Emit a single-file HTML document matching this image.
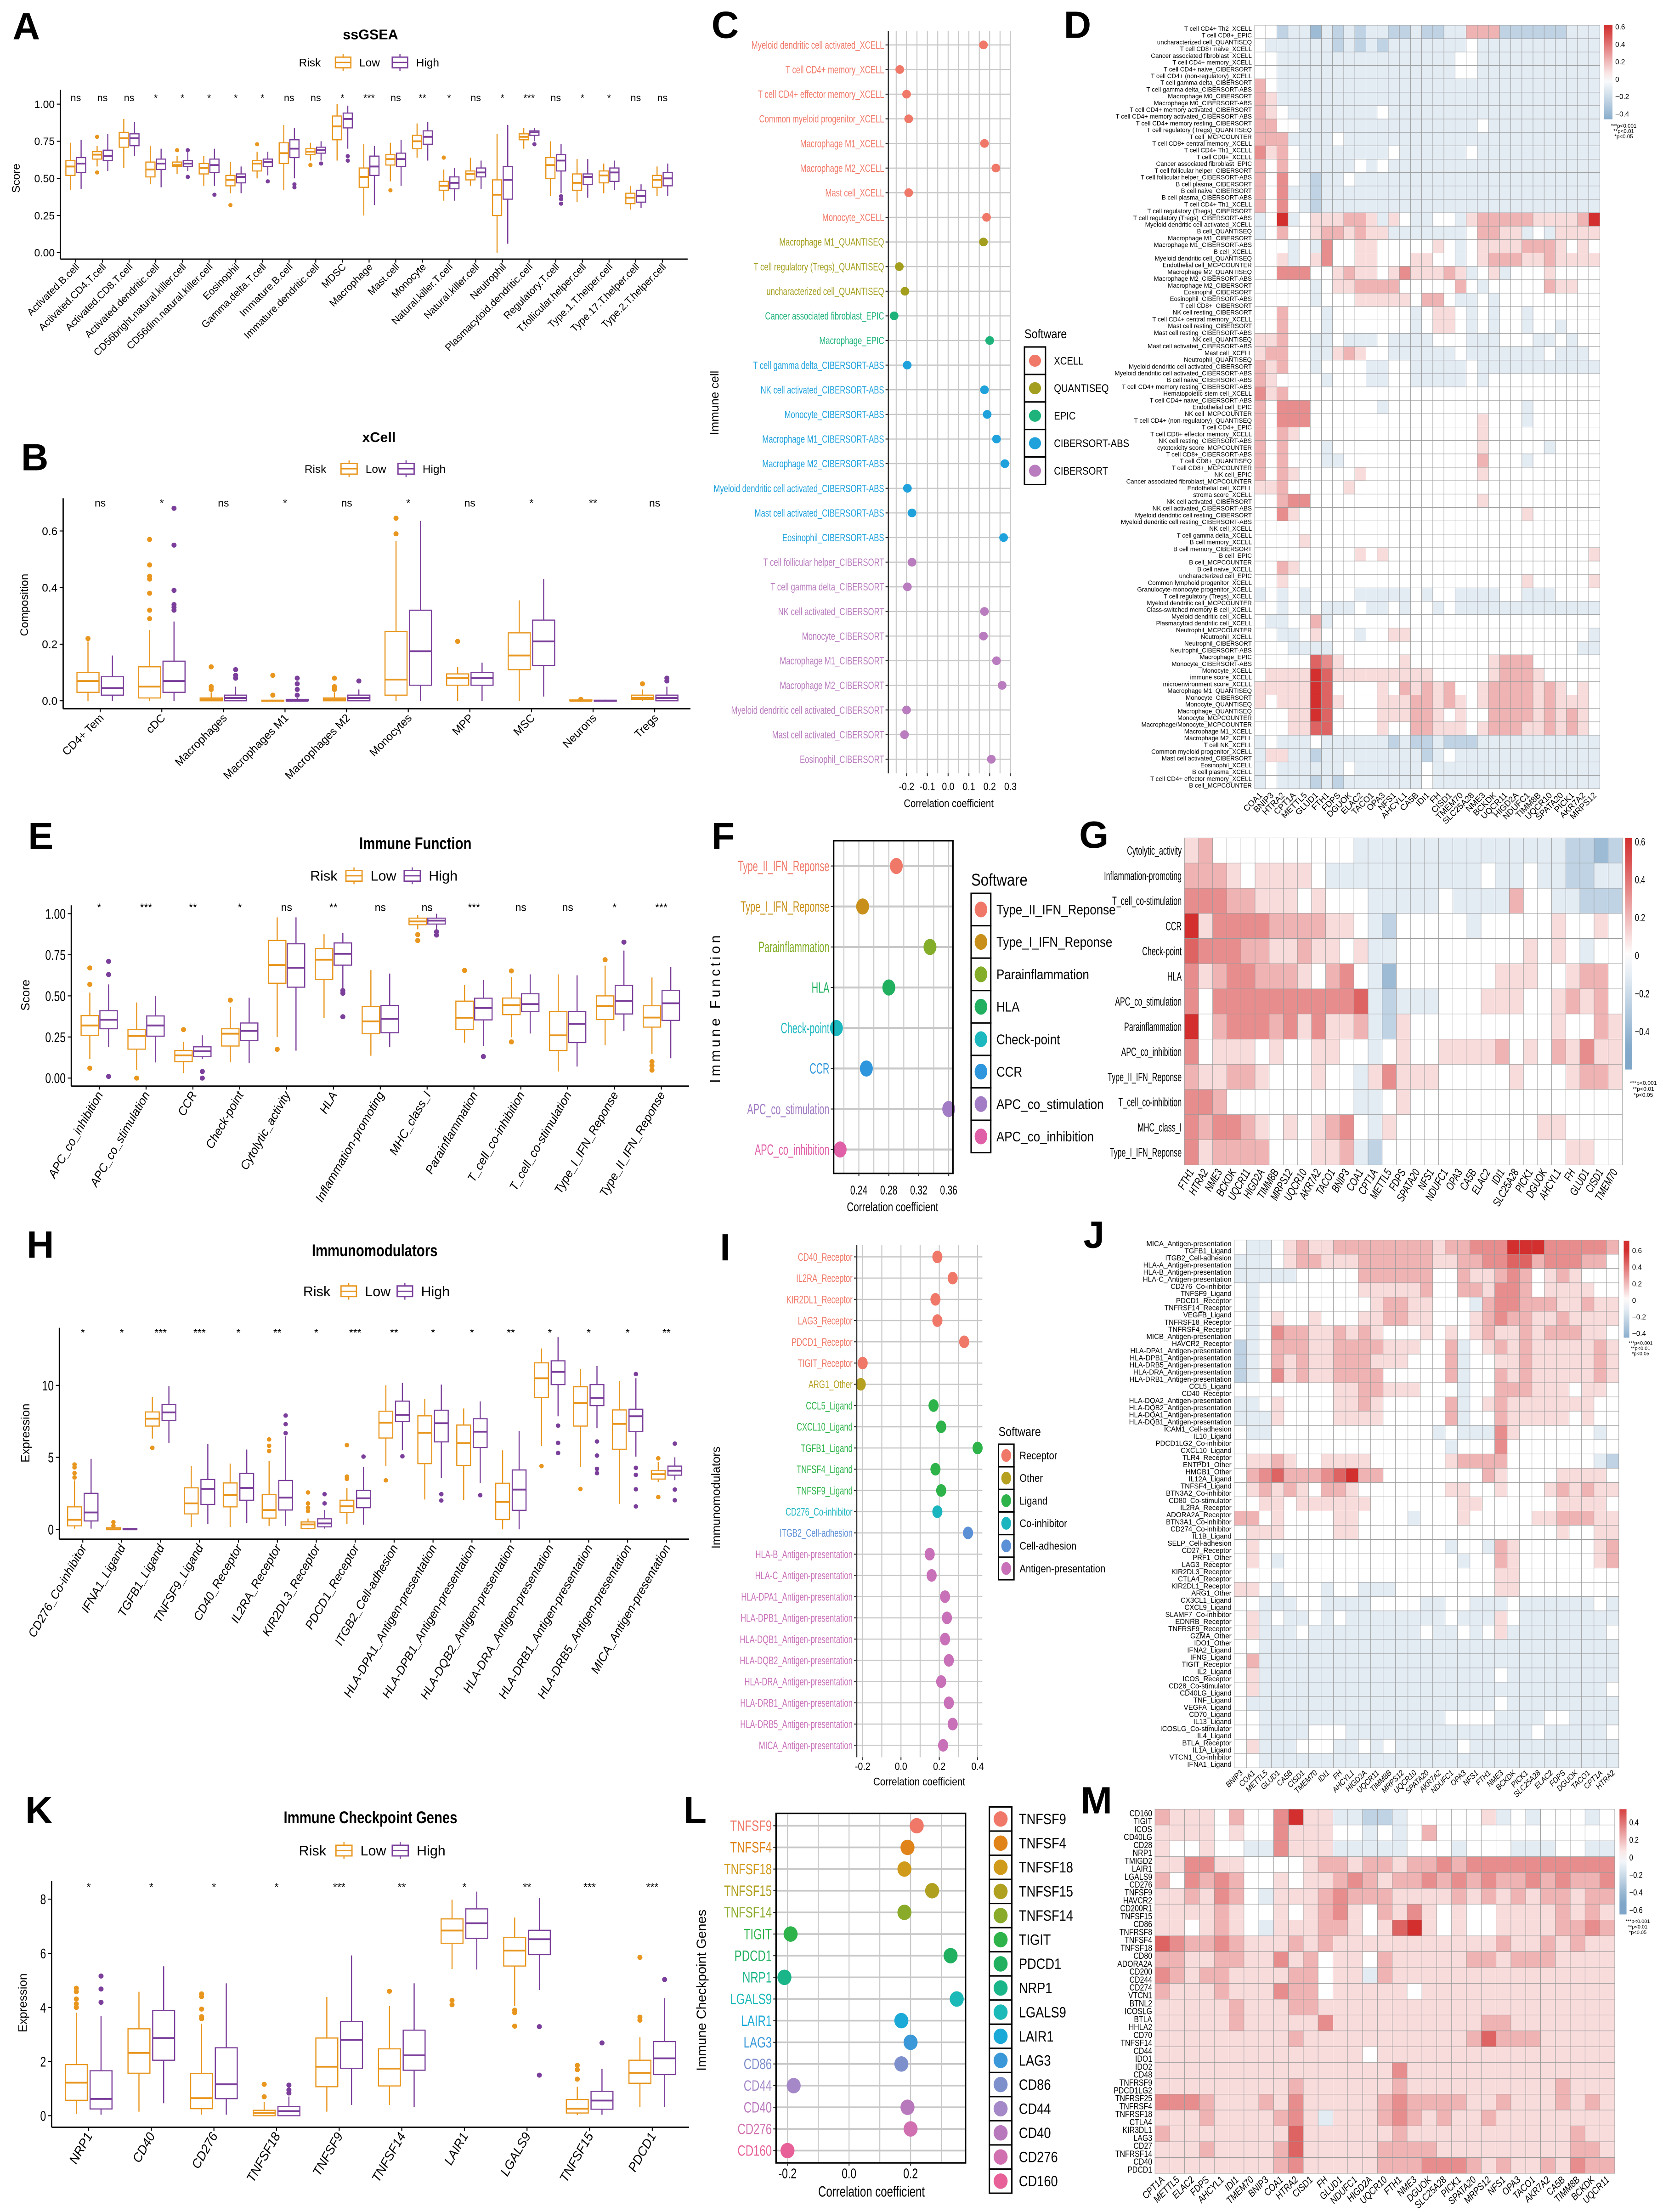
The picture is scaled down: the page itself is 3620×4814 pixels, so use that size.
<!DOCTYPE html>
<html><head><meta charset="utf-8"><title>Immune infiltration figure</title>
<style>html,body{margin:0;padding:0;background:#fff}svg{display:block}</style></head>
<body>
<svg id="fig" xmlns="http://www.w3.org/2000/svg" width="3620" height="4814" viewBox="0 0 1185 1576" preserveAspectRatio="none" font-family="Liberation Sans, Arial, sans-serif"><rect width="1185" height="1576" fill="#fff"/></svg>
<script>
// ===================== DATA =====================
const aCats=['Activated.B.cell','Activated.CD4.T.cell','Activated.CD8.T.cell','Activated.dendritic.cell','CD56bright.natural.killer.cell','CD56dim.natural.killer.cell','Eosinophil','Gamma.delta.T.cell','Immature.B.cell','Immature.dendritic.cell','MDSC','Macrophage','Mast.cell','Monocyte','Natural.killer.T.cell','Natural.killer.cell','Neutrophil','Plasmacytoid.dendritic.cell','Regulatory.T.cell','T.follicular.helper.cell','Type.1.T.helper.cell','Type.17.T.helper.cell','Type.2.T.helper.cell'];
const aLow=[[.52,.58,.62,.42,.74],[.63,.66,.68,.58,.72],[.71,.77,.81,.57,.90],[.51,.56,.61,.46,.72],[.58,.59,.61,.53,.65],[.53,.57,.60,.45,.65],[.45,.49,.52,.40,.61],[.55,.60,.62,.50,.68],[.60,.67,.74,.42,.86],[.66,.68,.70,.62,.74],[.76,.85,.92,.62,1.0],[.44,.51,.57,.25,.73],[.59,.63,.66,.48,.74],[.70,.75,.79,.64,.87],[.42,.45,.48,.35,.56],[.49,.53,.55,.45,.64],[.25,.39,.49,0,.80],[.76,.78,.80,.70,.84],[.50,.59,.64,.38,.75],[.42,.47,.53,.34,.63],[.47,.52,.55,.40,.60],[.33,.37,.40,.29,.45],[.44,.49,.52,.38,.58]];
const aHigh=[[.54,.60,.64,.43,.76],[.62,.65,.69,.55,.80],[.72,.77,.80,.65,.88],[.56,.60,.63,.44,.70],[.58,.60,.62,.55,.69],[.54,.59,.63,.45,.70],[.47,.51,.53,.40,.58],[.58,.61,.63,.52,.68],[.64,.70,.76,.50,.84],[.67,.69,.71,.62,.75],[.84,.90,.94,.70,.99],[.52,.58,.65,.32,.72],[.58,.63,.67,.45,.76],[.73,.78,.82,.62,.88],[.43,.47,.51,.35,.57],[.51,.54,.57,.43,.62],[.36,.49,.58,.06,.86],[.79,.81,.82,.75,.84],[.55,.62,.66,.40,.73],[.46,.51,.53,.37,.63],[.48,.54,.57,.42,.62],[.34,.38,.42,.30,.46],[.45,.50,.54,.38,.60]];
const aLowOut=[[],[.78,.54],[],[],[.69],[],[.32],[.73],[],[.59],[],[],[.42],[],[.64],[],[],[],[],[],[],[],[]];
const aHighOut=[[],[],[],[],[.69,.51],[.39],[],[.48],[.46,.44],[.60],[.65,.62],[],[],[],[],[],[],[.73],[.38,.36,.33],[],[],[],[]];
const aSig=['ns','ns','ns','*','*','*','*','*','ns','ns','*','***','ns','**','*','ns','*','***','ns','*','*','ns','ns'];
const aTicks=[0,0.25,0.5,0.75,1];
const aTickLabels=['0.00','0.25','0.50','0.75','1.00'];

const bCats=['CD4+ Tem','cDC','Macrophages','Macrophages M1','Macrophages M2','Monocytes','MPP','MSC','Neurons','Tregs'];
const bLow=[[.03,.07,.10,0,.21],[.01,.05,.12,0,.25],[0,.005,.01,0,.03],[0,0,.002,0,.004],[0,.005,.01,0,.03],[.02,.075,.245,0,.565],[.055,.08,.095,0,.12],[.11,.16,.24,0,.355],[0,0,.003,0,.005],[.005,.01,.02,0,.04]];
const bHigh=[[.02,.045,.085,0,.16],[.03,.07,.14,0,.28],[0,.01,.02,0,.05],[0,0,.005,0,.01],[0,.01,.02,0,.04],[.055,.175,.32,0,.635],[.055,.08,.10,0,.135],[.125,.21,.285,.015,.43],[0,0,.002,0,.004],[0,.01,.02,0,.05]];
const bLowOut=[[.22],[.29,.32,.38,.43,.44,.48,.57],[.04,.05,.12],[.02,.09],[.04,.05,.08],[.59,.645],[.21],[],[.005],[.06]];
const bHighOut=[[],[.32,.33,.34,.39,.55,.68],[.08,.09,.11],[.02,.04,.06,.08],[.07],[],[],[],[],[.07,.08]];
const bSig=['ns','*','ns','*','ns','*','ns','*','**','ns'];
const bTicks=[0,0.2,0.4,0.6];
const bTickLabels=['0.0','0.2','0.4','0.6'];

const eCats=['APC_co_inhibition','APC_co_stimulation','CCR','Check-point','Cytolytic_activity','HLA','Inflammation-promoting','MHC_class_I','Parainflammation','T_cell_co-inhibition','T_cell_co-stimulation','Type_I_IFN_Reponse','Type_II_IFN_Reponse'];
const eLow=[[.26,.32,.38,.115,.52],[.176,.256,.295,.05,.46],[.10,.138,.168,.03,.22],[.195,.27,.30,.096,.433],[.577,.688,.837,.25,.978],[.60,.72,.788,.364,.875],[.27,.345,.436,.136,.657],[.933,.953,.973,.905,.992],[.295,.367,.468,.215,.567],[.386,.444,.487,.248,.615],[.168,.26,.405,.04,.631],[.356,.439,.50,.2,.684],[.31,.368,.44,.147,.612]];
const eHigh=[[.30,.355,.41,.19,.57],[.255,.32,.378,.095,.50],[.13,.163,.19,.115,.26],[.228,.287,.335,.09,.489],[.553,.671,.817,.167,.978],[.687,.756,.822,.54,.883],[.276,.36,.442,.19,.636],[.937,.958,.973,.90,1.0],[.354,.426,.486,.195,.596],[.404,.45,.513,.271,.631],[.216,.33,.405,.07,.625],[.39,.47,.564,.287,.776],[.351,.455,.534,.12,.675]];
const eLowOut=[[.67,.57,.06],[0],[.295],[.474],[.175],[],[],[.873,.837],[.655],[.652,.22],[],[.72],[.10,.075,.048]];
const eHighOut=[[.71,.63,.01],[],[.04,0],[],[],[.532,.516,.373],[],[.89,.87],[.131],[],[],[.827],[]];
const eSig=['*','***','**','*','ns','**','ns','ns','***','ns','ns','*','***'];
const eTicks=[0,0.25,0.5,0.75,1];
const eTickLabels=['0.00','0.25','0.50','0.75','1.00'];

const hCats=['CD276_Co-inhibitor','IFNA1_Ligand','TGFB1_Ligand','TNFSF9_Ligand','CD40_Receptor','IL2RA_Receptor','KIR2DL3_Receptor','PDCD1_Receptor','ITGB2_Cell-adhesion','HLA-DPA1_Antigen-presentation','HLA-DPB1_Antigen-presentation','HLA-DQB2_Antigen-presentation','HLA-DRA_Antigen-presentation','HLA-DRB1_Antigen-presentation','HLA-DRB5_Antigen-presentation','MICA_Antigen-presentation'];
const hLow=[[.24,.66,1.56,.05,3.4],[0,0,.1,0,.1],[7.17,7.68,8.15,6.3,9.2],[1.07,1.8,2.88,.17,4.39],[1.56,2.37,3.22,.17,4.56],[.78,1.34,2.41,.24,4.76],[.05,.34,.51,0,.75],[1.17,1.6,2.02,.37,2.88],[6.34,7.4,8.2,4.4,10],[4.56,6.7,7.88,2.07,9.07],[4.44,5.98,7.24,2.02,8.39],[.68,1.9,3.2,0,5.49],[9.15,10.49,11.56,5.78,12.56],[7.17,8.78,9.9,4.34,11.15],[5.56,7.32,8.29,1.76,10.3],[3.49,3.83,4.07,3.3,4.68]];
const hHigh=[[.58,1.17,2.5,.05,4.9],[0,0,.05,0,.05],[7.56,8.12,8.66,5.98,9.93],[1.73,2.8,3.46,.37,5.93],[2.02,2.88,3.88,.44,5.54],[1.34,2.2,3.39,.24,6.46],[.17,.41,.73,.05,1.34],[1.5,2.15,2.7,.32,4.34],[7.49,7.95,8.9,5.49,10.17],[6.07,7.37,8.27,3.58,10.05],[5.68,6.78,7.68,3.22,8.88],[1.32,2.76,4.12,0,6.83],[10.05,10.93,11.7,7.85,13.34],[8.59,9.12,10.05,7.02,11.34],[6.78,7.85,8.34,5.05,10.49],[3.76,4.07,4.39,3.41,5.0]];
const hLowOut=[[4.5,4.3,3.9,3.6],[.5,.25],[5.66],[],[],[6.24,5.8,5.44],[2.56,1.8,1.5,1.27],[5.85,3.66,3.5],[3.4],[],[],[],[4.39],[2.8],[],[4.93,2.24]];
const hHighOut=[[],[],[],[],[],[7.9,7.3,6.68],[2.44,1.8],[5.05],[5.07],[2.44,2.0],[2.37],[],[7.2,6.0,5.3],[6.1,5.12,4.2,3.9],[10.78,4.27,3.78,2.78,1.59],[5.95,2.76,2.02]];
const hSig=['*','*','***','***','*','**','*','***','**','*','*','**','*','*','*','**'];
const hTicks=[0,5,10];
const hTickLabels=['0','5','10'];

const kCats=['NRP1','CD40','CD276','TNFSF18','TNFSF9','TNFSF14','LAIR1','LGALS9','TNFSF15','PDCD1'];
const kLow=[[.57,1.22,1.89,.06,3.81],[1.57,2.32,3.21,.15,4.58],[.26,.65,1.56,.04,3.4],[0,.1,.2,0,.5],[1.07,1.81,2.87,.15,4.39],[1.1,1.74,2.47,.4,4.05],[6.37,6.84,7.27,5.42,7.98],[5.53,6.1,6.59,4.05,7.32],[.1,.26,.6,.02,1.07],[1.2,1.58,2.05,.33,2.9]];
const kHigh=[[.25,.62,1.66,.04,3.68],[2.05,2.87,3.89,.46,5.52],[.63,1.16,2.51,.04,4.89],[0,.17,.34,0,.71],[1.75,2.8,3.48,.4,5.92],[1.68,2.23,3.16,.32,4.89],[6.55,7.11,7.64,5.4,8.28],[5.95,6.52,6.85,4.64,8.05],[.24,.56,.9,.04,1.73],[1.52,2.12,2.74,.32,4.34]];
const kLowOut=[[4.71,4.58,4.31,4.13,4.0],[],[4.5,4.4,3.94,3.66,3.58],[1.16,.7],[],[4.6],[4.26,4.1],[3.81,3.9,3.31],[1.86,1.7,1.35],[5.85,3.64,3.53]];
const kHighOut=[[5.16,4.68,4.19],[],[],[1.13,.95,.84],[],[],[],[3.29,1.5],[2.69],[5.03]];
const kSig=['*','*','*','*','***','**','*','**','***','***'];
const kTicks=[0,2,4,6,8];
const kTickLabels=['0','2','4','6','8'];

const cLabels=['Myeloid dendritic cell activated_XCELL','T cell CD4+ memory_XCELL','T cell CD4+ effector memory_XCELL','Common myeloid progenitor_XCELL','Macrophage M1_XCELL','Macrophage M2_XCELL','Mast cell_XCELL','Monocyte_XCELL','Macrophage M1_QUANTISEQ','T cell regulatory (Tregs)_QUANTISEQ','uncharacterized cell_QUANTISEQ','Cancer associated fibroblast_EPIC','Macrophage_EPIC','T cell gamma delta_CIBERSORT-ABS','NK cell activated_CIBERSORT-ABS','Monocyte_CIBERSORT-ABS','Macrophage M1_CIBERSORT-ABS','Macrophage M2_CIBERSORT-ABS','Myeloid dendritic cell activated_CIBERSORT-ABS','Mast cell activated_CIBERSORT-ABS','Eosinophil_CIBERSORT-ABS','T cell follicular helper_CIBERSORT','T cell gamma delta_CIBERSORT','NK cell activated_CIBERSORT','Monocyte_CIBERSORT','Macrophage M1_CIBERSORT','Macrophage M2_CIBERSORT','Myeloid dendritic cell activated_CIBERSORT','Mast cell activated_CIBERSORT','Eosinophil_CIBERSORT'];
const cValues=[.17,-.233,-.20,-.19,.175,.23,-.19,.185,.17,-.235,-.208,-.26,.20,-.197,.175,.188,.233,.273,-.196,-.174,.267,-.174,-.196,.175,.17,.233,.26,-.20,-.21,.208];
const cGroup=[0,0,0,0,0,0,0,0,1,1,1,2,2,3,3,3,3,3,3,3,3,4,4,4,4,4,4,4,4,4];
const cSoftware=['XCELL','QUANTISEQ','EPIC','CIBERSORT-ABS','CIBERSORT'];
const cColors=['#F07868','#A39E1E','#1DB37A','#1FA2DC','#B97CBE'];
const cTicks=[-0.2,-0.1,0,0.1,0.2,0.3];
const cTickLabels=['-0.2','-0.1','0.0','0.1','0.2','0.3'];

const fLabels=['Type_II_IFN_Reponse','Type_I_IFN_Reponse','Parainflammation','HLA','Check-point','CCR','APC_co_stimulation','APC_co_inhibition'];
const fValues=[.29,.245,.335,.28,.21,.25,.36,.215];
const fColors=['#F07868','#C8901A','#84AE2A','#20B060','#1BB8C0','#2E96DC','#A27CC4','#E060A8'];
const fTicks=[0.24,0.28,0.32,0.36];
const fTickLabels=['0.24','0.28','0.32','0.36'];

const iLabels=['CD40_Receptor','IL2RA_Receptor','KIR2DL1_Receptor','LAG3_Receptor','PDCD1_Receptor','TIGIT_Receptor','ARG1_Other','CCL5_Ligand','CXCL10_Ligand','TGFB1_Ligand','TNFSF4_Ligand','TNFSF9_Ligand','CD276_Co-inhibitor','ITGB2_Cell-adhesion','HLA-B_Antigen-presentation','HLA-C_Antigen-presentation','HLA-DPA1_Antigen-presentation','HLA-DPB1_Antigen-presentation','HLA-DQB1_Antigen-presentation','HLA-DQB2_Antigen-presentation','HLA-DRA_Antigen-presentation','HLA-DRB1_Antigen-presentation','HLA-DRB5_Antigen-presentation','MICA_Antigen-presentation'];
const iValues=[.19,.27,.18,.19,.33,-.20,-.21,.17,.21,.40,.18,.21,.19,.35,.15,.16,.23,.24,.23,.25,.21,.25,.27,.22];
const iGroup=[0,0,0,0,0,0,1,2,2,2,2,2,3,4,5,5,5,5,5,5,5,5,5,5];
const iSoftware=['Receptor','Other','Ligand','Co-inhibitor','Cell-adhesion','Antigen-presentation'];
const iColors=['#F07868','#B5A020','#2DB34A','#1BB5C0','#5B8FD6','#C870B8'];
const iTicks=[-0.2,0,0.2,0.4];
const iTickLabels=['-0.2','0.0','0.2','0.4'];

const lLabels=['TNFSF9','TNFSF4','TNFSF18','TNFSF15','TNFSF14','TIGIT','PDCD1','NRP1','LGALS9','LAIR1','LAG3','CD86','CD44','CD40','CD276','CD160'];
const lValues=[.22,.19,.18,.27,.18,-.19,.33,-.21,.35,.17,.20,.17,-.18,.19,.20,-.20];
const lColors=['#F07868','#E0841A','#D09A1A','#B0A020','#8AAA2A','#2DB34A','#20B060','#1BB58A','#1BBAB8','#1BAAD8','#3A98D8','#7E90CC','#A588C8','#B878BC','#D070B0','#E86098'];
const lTicks=[-0.2,0,0.2];
const lTickLabels=['-0.2','0.0','0.2'];

const heatLevels=[-0.5,-0.38,-0.25,-0.11,0,0.1,0.22,0.33,0.45,0.6];

const dCols=['COA1','BNIP3','HTRA2','CPT1A','METTL5','GLUD1','FTH1','FDPS','DGUOK','ELAC2','TACO1','OPA3','NFS1','AHCYL1','CA5B','IDI1','FH','CISD1','TMEM70','SLC25A28','NME3','BCKDK','UQCR11','HIGD2A','NDUFC1','TIMM8B','UQCR10','SPATA20','PICK1','AKR7A2','MRPS12'];
const dRows=['T cell CD4+ Th2_XCELL','T cell CD8+_EPIC','uncharacterized cell_QUANTISEQ','T cell CD8+ naive_XCELL','Cancer associated fibroblast_XCELL','T cell CD4+ memory_XCELL','T cell CD4+ naive_CIBERSORT','T cell CD4+ (non-regulatory)_XCELL','T cell gamma delta_CIBERSORT','T cell gamma delta_CIBERSORT-ABS','Macrophage M0_CIBERSORT','Macrophage M0_CIBERSORT-ABS','T cell CD4+ memory activated_CIBERSORT','T cell CD4+ memory activated_CIBERSORT-ABS','T cell CD4+ memory resting_CIBERSORT','T cell regulatory (Tregs)_QUANTISEQ','T cell_MCPCOUNTER','T cell CD8+ central memory_XCELL','T cell CD4+ Th1_XCELL','T cell CD8+_XCELL','Cancer associated fibroblast_EPIC','T cell follicular helper_CIBERSORT','T cell follicular helper_CIBERSORT-ABS','B cell plasma_CIBERSORT','B cell naive_CIBERSORT','B cell plasma_CIBERSORT-ABS','T cell CD4+ Th1_XCELL','T cell regulatory (Tregs)_CIBERSORT','T cell regulatory (Tregs)_CIBERSORT-ABS','Myeloid dendritic cell activated_XCELL','B cell_QUANTISEQ','Macrophage M1_CIBERSORT','Macrophage M1_CIBERSORT-ABS','B cell_XCELL','Myeloid dendritic cell_QUANTISEQ','Endothelial cell_MCPCOUNTER','Macrophage M2_QUANTISEQ','Macrophage M2_CIBERSORT-ABS','Macrophage M2_CIBERSORT','Eosinophil_CIBERSORT','Eosinophil_CIBERSORT-ABS','T cell CD8+_CIBERSORT','NK cell resting_CIBERSORT','T cell CD4+ central memory_XCELL','Mast cell resting_CIBERSORT','Mast cell resting_CIBERSORT-ABS','NK cell_QUANTISEQ','Mast cell activated_CIBERSORT-ABS','Mast cell_XCELL','Neutrophil_QUANTISEQ','Myeloid dendritic cell activated_CIBERSORT','Myeloid dendritic cell activated_CIBERSORT-ABS','B cell naive_CIBERSORT-ABS','T cell CD4+ memory resting_CIBERSORT-ABS','Hematopoietic stem cell_XCELL','T cell CD4+ naive_CIBERSORT-ABS','Endothelial cell_EPIC','NK cell_MCPCOUNTER','T cell CD4+ (non-regulatory)_QUANTISEQ','T cell CD4+_EPIC','T cell CD8+ effector memory_XCELL','NK cell resting_CIBERSORT-ABS','cytotoxicity score_MCPCOUNTER','T cell CD8+_CIBERSORT-ABS','T cell CD8+_QUANTISEQ','T cell CD8+_MCPCOUNTER','NK cell_EPIC','Cancer associated fibroblast_MCPCOUNTER','Endothelial cell_XCELL','stroma score_XCELL','NK cell activated_CIBERSORT','NK cell activated_CIBERSORT-ABS','Myeloid dendritic cell resting_CIBERSORT','Myeloid dendritic cell resting_CIBERSORT-ABS','NK cell_XCELL','T cell gamma delta_XCELL','B cell memory_XCELL','B cell memory_CIBERSORT','B cell_EPIC','B cell_MCPCOUNTER','B cell naive_XCELL','uncharacterized cell_EPIC','Common lymphoid progenitor_XCELL','Granulocyte-monocyte progenitor_XCELL','T cell regulatory (Tregs)_XCELL','Myeloid dendritic cell_MCPCOUNTER','Class-switched memory B cell_XCELL','Myeloid dendritic cell_XCELL','Plasmacytoid dendritic cell_XCELL','Neutrophil_MCPCOUNTER','Neutrophil_XCELL','Neutrophil_CIBERSORT','Neutrophil_CIBERSORT-ABS','Macrophage_EPIC','Monocyte_CIBERSORT-ABS','Monocyte_XCELL','immune score_XCELL','microenvironment score_XCELL','Macrophage M1_QUANTISEQ','Monocyte_CIBERSORT','Monocyte_QUANTISEQ','Macrophage_QUANTISEQ','Monocyte_MCPCOUNTER','Macrophage/Monocyte_MCPCOUNTER','Macrophage M1_XCELL','Macrophage M2_XCELL','T cell NK_XCELL','Common myeloid progenitor_XCELL','Mast cell activated_CIBERSORT','Eosinophil_XCELL','B cell plasma_XCELL','T cell CD4+ effector memory_XCELL','B cell_MCPCOUNTER'];
const dValues=["4423313232332232233666222222333","4333333232323333333433333333333","4433333333333333334433333333333","4433333333333333334433333333333","6433333333333333333333333333333","6533333333333333333333333333333","6543333333343333333333333333333","6644333333333333333343333333333","6663333433333333333333333333333","7564333333334333333433333333333","6464333334343333333333333333333","6474323343333333333333333333333","6473323333333333333333333333333","6474323333333333333333333333333","3493455566535433443566666555569","3464456656553333333466553435555","4443437445544444543455556665454","4453457445544455443456665565555","4477744565545755565345344454444","4444434556666444446434444465544","4444434445555546643343444444444","4464443444444434554343443444444","4464443444444434554343443443444","5564433433343333444333444334344","5664433565443333334333333343334","6564434444334433333433333333333","6544443444334433333434444444444","7564444444444444444444444444444","6477744444434444444444443444444","6477744444444444444454443444444","6465444444444444444454444444444","6464443444444444444454444434444","6464443344444444444464443444444","6465444445444444444454444444444","5564444454444444444444444444444","4467744444444444444454444444444","4475444444444444444444445444444","4444444444444444444444444444444","4444544444444444444444444444444","4444444445454444444444444444445","4465444444444444444444444444444","4454444444444444444444445444445","3434344443333343443333443334444","4434343334334344343333333333333","4334463444444444444444444444444","4433454443445544444444444444443","4443333444444444444444444444433","4444487544444544444445666444444","4555598555555555444445666544444","5555598444454656564456666565454","5455598544455566565456666565554","4445598444455566545446666565654","4445588444454466555456665565654","3433343333332322322233333333333","3553323333333332343333333333333","3433333343333334333333333333333","3433323233333334333333333333333"];

const gCols=['FTH1','HTRA2','NME3','BCKDK','UQCR11','HIGD2A','TIMM8B','MRPS12','UQCR10','AKR7A2','TACO1','BNIP3','COA1','CPT1A','METTL5','FDPS','SPATA20','NFS1','NDUFC1','OPA3','CA5B','ELAC2','IDI1','SLC25A28','PICK1','DGUOK','AHCYL1','FH','GLUD1','CISD1','TMEM70'];
const gRows=['Cytolytic_activity','Inflammation-promoting','T_cell_co-stimulation','CCR','Check-point','HLA','APC_co_stimulation','Parainflammation','APC_co_inhibition','Type_II_IFN_Reponse','T_cell_co-inhibition','MHC_class_I','Type_I_IFN_Reponse'];
const gValues=["5644444444443333333333333332212","6665455554333333333334334332233","7776655545444333334333364433222","9577776666554324444434444454454","8777665565545334444444445454344","7567766654674314444444555445664","7477777777778323334445554456564","9467776757556325444444444454465","7455545445544345445555645465755","6556654445443575554444454445665","7764444444443345444444444444444","7677654545674354444444444554444","7566664445563244444444444445544"];

const jCols=['BNIP3','COA1','METTL5','GLUD1','CA5B','CISD1','TMEM70','IDI1','FH','AHCYL1','HIGD2A','UQCR11','TIMM8B','MRPS12','UQCR10','SPATA20','AKR7A2','NDUFC1','OPA3','NFS1','FTH1','NME3','BCKDK','PICK1','SLC25A28','ELAC2','FDPS','DGUOK','TACO1','CPT1A','HTRA2'];
const jRows=['MICA_Antigen-presentation','TGFB1_Ligand','ITGB2_Cell-adhesion','HLA-A_Antigen-presentation','HLA-B_Antigen-presentation','HLA-C_Antigen-presentation','CD276_Co-inhibitor','TNFSF9_Ligand','PDCD1_Receptor','TNFRSF14_Receptor','VEGFB_Ligand','TNFRSF18_Receptor','TNFRSF4_Receptor','MICB_Antigen-presentation','HAVCR2_Receptor','HLA-DPA1_Antigen-presentation','HLA-DPB1_Antigen-presentation','HLA-DRB5_Antigen-presentation','HLA-DRA_Antigen-presentation','HLA-DRB1_Antigen-presentation','CCL5_Ligand','CD40_Receptor','HLA-DQA2_Antigen-presentation','HLA-DQB2_Antigen-presentation','HLA-DQA1_Antigen-presentation','HLA-DQB1_Antigen-presentation','ICAM1_Cell-adhesion','IL10_Ligand','PDCD1LG2_Co-inhibitor','CXCL10_Ligand','TLR4_Receptor','ENTPD1_Other','HMGB1_Other','IL12A_Ligand','TNFSF4_Ligand','BTN3A2_Co-inhibitor','CD80_Co-stimulator','IL2RA_Receptor','ADORA2A_Receptor','BTN3A1_Co-inhibitor','CD274_Co-inhibitor','IL1B_Ligand','SELP_Cell-adhesion','CD27_Receptor','PRF1_Other','LAG3_Receptor','KIR2DL3_Receptor','CTLA4_Receptor','KIR2DL1_Receptor','ARG1_Other','CX3CL1_Ligand','CXCL9_Ligand','SLAMF7_Co-inhibitor','EDNRB_Receptor','TNFRSF9_Receptor','GZMA_Other','IDO1_Other','IFNA2_Ligand','IFNG_Ligand','TIGIT_Receptor','IL2_Ligand','ICOS_Receptor','CD28_Co-stimulator','CD40LG_Ligand','TNF_Ligand','VEGFA_Ligand','CD70_Ligand','IL13_Ligand','ICOSLG_Co-stimulator','IL4_Ligand','BTLA_Receptor','IL1A_Ligand','VTCN1_Co-inhibitor','IFNA1_Ligand'];
const jValues=["4334565566666666566777999777776","3334566555666666556677886777664","3333344444666666446556764565444","4344444444555556446657764555544","4344444444456655444367766655655","4345445444556655444567665565555","4347665565654445454565565666554","2346665566665554463456565555565","2346565566655544463445565555565","2347565566664444463446565555565","4444444455665554443446665554554","3345444455654444463456555555544","3335444455554444463446555554544","4334444444444444343337544444434","4444444444444444434447444444444","4556544555544444456666444444432","4678666789664444444465444455554","4565654665444444455445444565655","4455455555544444445544444455554","6645444455444434445444445566655","4555444455444444444444444454455","4544444444444444434436544444456","4543444444444444443446544444456","4444444444444444444445544444444","5543444344333444444445544444444","4433344333344443344333433333343","4534334343333333343335433333333","4533343333333334334345333333334","4433333333333333333333333333333","4633333333333333333333333333333","4533333333333333333334333333333","4533333333333333333333333333334","4333333333333333333334333333333","4433333333333333344443333443333","4433334443333333333333334333334","4533344433434333334333333333333","4433333333333333333333333333333"];

const mCols=['CPT1A','METTL5','ELAC2','FDPS','AHCYL1','IDI1','TMEM70','BNIP3','COA1','HTRA2','CISD1','FH','GLUD1','NDUFC1','HIGD2A','UQCR10','FTH1','NME3','DGUOK','SLC25A28','PICK1','SPATA20','MRPS12','NFS1','OPA3','TACO1','AKR7A2','CA5B','TIMM8B','BCKDK','UQCR11'];
const mRows=['CD160','TIGIT','ICOS','CD40LG','CD28','NRP1','TMIGD2','LAIR1','LGALS9','CD276','TNFSF9','HAVCR2','CD200R1','TNFSF15','CD86','TNFRSF8','TNFSF4','TNFSF18','CD80','ADORA2A','CD200','CD244','CD274','VTCN1','BTNL2','ICOSLG','BTLA','HHLA2','CD70','TNFSF14','CD44','IDO1','IDO2','CD48','TNFRSF9','PDCD1LG2','TNFRSF25','TNFRSF4','TNFRSF18','CTLA4','KIR3DL1','LAG3','CD27','TNFRSF14','CD40','PDCD1'];
const mValues=["6555464479553322344444534344434","5555454475554434346444444444444","5445443375553333344434443334433","5577554444566566566767777777777","6476764454556765667676766767667","5565764355567666555565656566566","5555654454567546575454455556565","5545654355566545895454455556676","8766765556565555555555565565655","6655665575645546555556656665555","7656655556645536555555555555555","6555655576645555545555555555555","5555565556655555555555555555555","5555565555575555555555665555555","5555555556555555555556866655555","5555555555555545555555555555555","5555555555555555755555555555555","5555555556555555655555555556555","7776555657555556766665565556565","5556555567535556765655655555555","6555555558555555655555555555655","5556555568555556666555555555665","5555555567555556667776565565766"];

// ===================== DRAWING =====================
const NS='http://www.w3.org/2000/svg';
const svg=document.getElementById('fig');
const LOW='#E8961E', HIGH='#7B3F9B';
const NARROW='"Liberation Sans Narrow","Liberation Sans",Arial,sans-serif';

function mk(tag,attrs,parent){
  const e=document.createElementNS(NS,tag);
  for(const k in attrs) e.setAttribute(k,attrs[k]);
  (parent||svg).appendChild(e);
  return e;
}
function txt(parent,x,y,s,o){
  o=o||{};
  const t=mk('text',{x:0,y:0,'font-size':o.size||8,'text-anchor':o.anchor||'start',fill:o.fill||'#000'},parent);
  if(o.weight) t.setAttribute('font-weight',o.weight);
  if(o.italic) t.setAttribute('font-style','italic');
  if(o.family) t.setAttribute('font-family',o.family);
  if(o.ls) t.setAttribute('letter-spacing',o.ls);
  let tr='translate('+x+','+y+')';
  if(o.rot) tr+=' rotate('+o.rot+')';
  if(o.sx && o.sx!==1) tr+=' scale('+o.sx+',1)';
  t.setAttribute('transform',tr);
  t.textContent=s;
  return t;
}
function panelLetter(ch,x,y){
  const t=txt(svg,x,y,ch,{size:27,weight:'bold'});
  
  
}
function heatColor(v){
  if(v>=0){const t=Math.min(v/0.6,1);return 'rgb('+Math.round(255-44*t)+','+Math.round(255-208*t)+','+Math.round(255-208*t)+')';}
  const t=Math.min(-v/0.5,1);return 'rgb('+Math.round(255-128*t)+','+Math.round(255-89*t)+','+Math.round(255-55*t)+')';
}

function riskLegend(g,y,riskX,lowX,highX,bw,fs,family){
  const lg=mk('g',{},g);
  
  
  txt(lg,riskX,y+fs*0.35,'Risk',{size:fs,family:family});
  [[lowX,LOW,'Low'],[highX,HIGH,'High']].forEach(function(it){
    const k=mk('g',{},lg);
    
    
    const cx=it[0]+bw/2;
    mk('line',{x1:cx,y1:y-6,x2:cx,y2:y+6,stroke:it[1],'stroke-width':0.8},k);
    mk('rect',{x:it[0],y:y-3.8,width:bw,height:7.6,fill:'#fff',stroke:it[1],'stroke-width':0.9},k);
    mk('line',{x1:it[0],y1:y,x2:it[0]+bw,y2:y,stroke:it[1],'stroke-width':0.9},k);
    txt(k,it[0]+bw+6,y+fs*0.35,it[2],{size:fs,family:family});
  });
}

function boxPanel(P){
  const g=mk('g',{});
  
  
  const ys=function(v){return P.pMin+(v-P.vMin)*(P.pMax-P.pMin)/(P.vMax-P.vMin);};
  const tt=txt(g,P.titleX,P.titleY,P.title,{size:P.titleSize,weight:'bold',anchor:'middle',family:P.family,sx:P.titleSx||1});
  
  
  riskLegend(g,P.legY,P.riskX,P.lowX,P.highX,P.keyW,P.legSize,P.family);
  const yt=txt(g,P.ylabX,P.ylabY,P.ylab,{size:P.ylabSize,anchor:'middle',rot:-90});
  
  
  const ya=mk('line',{x1:P.ax,y1:P.top,x2:P.ax,y2:P.base,stroke:'#000','stroke-width':0.9},g);
  
  
  const xa=mk('line',{x1:P.ax,y1:P.base,x2:P.right,y2:P.base,stroke:'#000','stroke-width':0.9},g);
  
  
  P.ticks.forEach(function(v,i){
    const y=ys(v);
    mk('line',{x1:P.ax-2.5,y1:y,x2:P.ax,y2:y,stroke:'#000','stroke-width':0.7},g);
    const tl=txt(g,P.ax-4,y+P.tickSize*0.36,P.tickLabels[i],{size:P.tickSize,anchor:'end',family:P.family,sx:P.tickSx||1});
    
    
  });
  P.cats.forEach(function(c,i){
    const cx=P.cx0+i*P.dx;
    mk('line',{x1:cx,y1:P.base,x2:cx,y2:P.base+2.5,stroke:'#000','stroke-width':0.7},g);
    const xl=txt(g,cx+P.lblDx,P.base+P.lblDy,c,{size:P.lblSize,anchor:'end',rot:P.rot,italic:P.italic});
    
    
    const st=txt(g,cx,P.sigY,P.sig[i],{size:P.sigSize,anchor:'middle'});
    
    
    drawBox(g,cx-P.off,P.low[i],P.lowOut[i],LOW,P,ys,'box-low-'+i);
    drawBox(g,cx+P.off,P.high[i],P.highOut[i],HIGH,P,ys,'box-high-'+i);
  });
}
function drawBox(g,cx,s,outs,color,P,ys,name){
  const b=mk('g',{},g);
  
  
  const sw=P.sw||0.8;
  mk('line',{x1:cx,y1:ys(s[3]),x2:cx,y2:ys(s[0]),stroke:color,'stroke-width':sw},b);
  mk('line',{x1:cx,y1:ys(s[2]),x2:cx,y2:ys(s[4]),stroke:color,'stroke-width':sw},b);
  const top=ys(s[2]),bot=ys(s[0]);
  mk('rect',{x:cx-P.bw/2,y:Math.min(top,bot),width:P.bw,height:Math.max(Math.abs(bot-top),0.6),fill:'#fff',stroke:color,'stroke-width':sw},b);
  mk('line',{x1:cx-P.bw/2,y1:ys(s[1]),x2:cx+P.bw/2,y2:ys(s[1]),stroke:color,'stroke-width':sw*1.6},b);
  outs.forEach(function(v){
    const o=mk('circle',{cx:cx,cy:ys(v),r:P.or,fill:color},b);
    
    
  });
}

function dotPanel(P){
  const g=mk('g',{});
  
  
  const xs=function(v){return P.xRef+(v-P.vRef)*P.perUnit;};
  for(let v=P.gridFrom; v<=P.gridTo+1e-9; v+=P.gridStep){
    const gx=xs(v);
    if(gx<P.L-0.5||gx>P.R+0.5) continue;
    mk('line',{x1:gx,y1:P.T,x2:gx,y2:P.B,stroke:'#c8c8c8','stroke-width':0.7},g);
  }
  P.labels.forEach(function(lab,i){
    const y=P.y0+i*P.dy;
    mk('line',{x1:P.L,y1:y,x2:P.R,y2:y,stroke:'#c8c8c8','stroke-width':P.rowW||0.8},g);
    mk('line',{x1:P.L-2,y1:y,x2:P.L,y2:y,stroke:'#333','stroke-width':0.7},g);
    const t=txt(g,P.L-3,y+P.lblSize*0.35,lab,{size:P.lblSize,anchor:'end',fill:P.colorOf(i),family:NARROW,sx:P.lblSx});
    
    
    const d=mk('ellipse',{cx:xs(P.values[i]),cy:y,rx:P.r,ry:P.r*(P.ryScale||1),fill:P.colorOf(i)},g);
    
    
  });
  if(P.frame){
    mk('rect',{x:P.L,y:P.T,width:P.R-P.L,height:P.B-P.T,fill:'none',stroke:'#000','stroke-width':1.1},g);
  } else {
    mk('line',{x1:P.L,y1:P.T,x2:P.L,y2:P.B,stroke:'#333','stroke-width':0.8},g);
  }
  P.ticks.forEach(function(v,i){
    const x=xs(v);
    mk('line',{x1:x,y1:P.B,x2:x,y2:P.B+2,stroke:'#333','stroke-width':0.7},g);
    const tl=txt(g,x,P.tickY,P.tickLabels[i],{size:P.tickSize,anchor:'middle',family:NARROW,sx:P.tickSx||0.85});
    
    
  });
  const xt=txt(g,P.xtX,P.xtY,'Correlation coefficient',{size:P.xtSize,anchor:'middle',family:NARROW,sx:P.xtSx||0.85});
  
  
  const yt=txt(g,P.ytX,P.ytY,P.ytitle,{size:P.ytSize,anchor:'middle',rot:-90,ls:P.ytLs||0});
  
  
}
function dotLegend(P){
  const g=mk('g',{});
  
  
  if(P.title){
    const t=txt(g,P.x,P.titleY,P.title,{size:P.titleSize,family:NARROW,sx:0.85});
    
    
  }
  P.items.forEach(function(it,i){
    const cy=P.y0+i*P.dy;
    const e=mk('g',{},g);
    
    
    mk('rect',{x:P.x,y:cy-P.dy/2,width:P.w,height:P.dy,fill:'#fff',stroke:'#000','stroke-width':1},e);
    mk('ellipse',{cx:P.x+P.w/2,cy:cy,rx:P.r,ry:P.r*(P.ryScale||1),fill:P.colors[i]},e);
    txt(e,P.x+P.w+P.gap,cy+P.size*0.35,it,{size:P.size,family:NARROW,sx:0.85});
  });
}

function heatmap(P){
  const g=mk('g',{});
  
  
  const nc=P.cols.length, nr=P.vals.length;
  const cw=(P.x1-P.x0)/nc, ch=(P.y1-P.y0)/nr;
  P.vals.forEach(function(row,r){
    for(let c=0;c<nc;c++){
      const d=parseInt(row.charAt(c)||'4',10);
      const cell=mk('rect',{x:P.x0+c*cw,y:P.y0+r*ch,width:cw,height:ch,fill:heatColor(heatLevels[d]),stroke:'#9a9a9a','stroke-width':0.3},g);
      
      
    }
  });
  const rh=(P.y1-P.y0)/P.rows.length;
  P.rows.forEach(function(n,i){
    const t=txt(g,P.x0-2,P.y0+(i+0.5)*rh+P.rowSize*0.35,n,{size:P.rowSize,anchor:'end',family:P.rowFamily,sx:P.rowSx||1});
    
    
  });
  P.cols.forEach(function(n,i){
    const t=txt(g,P.x0+(i+0.5)*cw+P.colDx,P.y1+P.colDy,n,{size:P.colSize,anchor:'end',rot:P.colRot,italic:P.colItalic,family:P.colFamily,sx:P.colSx||1});
    
    
  });
}
let gradId=0;
function colorbar(P){
  const g=mk('g',{});
  
  
  const id='cb'+(gradId++);
  const defs=mk('defs',{},g);
  const lg=mk('linearGradient',{id:id,x1:0,y1:0,x2:0,y2:1},defs);
  for(let i=0;i<=10;i++){
    const v=P.vTop+(P.vBot-P.vTop)*i/10;
    mk('stop',{offset:(i*10)+'%','stop-color':heatColor(v)},lg);
  }
  mk('rect',{x:P.x,y:P.y0,width:P.w,height:P.y1-P.y0,fill:'url(#'+id+')'},g);
  P.ticks.forEach(function(v){
    const y=P.y0+(v-P.vTop)/(P.vBot-P.vTop)*(P.y1-P.y0);
    const t=txt(g,P.x+P.w+2,y+P.size*0.35,(v===0?'0':(v<0?'\u2212'+Math.abs(v).toFixed(1):v.toFixed(1))),{size:P.size,family:P.family,sx:P.sx||1});
    
    
  });
  ['***p<0.001','**p<0.01','*p<0.05'].forEach(function(s,i){
    const t=txt(g,P.x+P.w+8,P.pY+i*P.pDy,s,{size:P.pSize,anchor:'middle'});
    
    
  });
}

panelLetter('A',9,28); panelLetter('B',15,335); panelLetter('C',507,27); panelLetter('D',758,27);
panelLetter('E',20,605); panelLetter('F',507,605); panelLetter('G',769,604);
panelLetter('H',19,896); panelLetter('I',513,898); panelLetter('J',772,889);
panelLetter('K',18,1299); panelLetter('L',487,1299); panelLetter('M',770,1292);

boxPanel({name:'panel-a-ssgsea',cats:aCats,low:aLow,high:aHigh,lowOut:aLowOut,highOut:aHighOut,sig:aSig,ticks:aTicks,tickLabels:aTickLabels,
  vMin:0,vMax:1,pMin:180,pMax:74.2,ax:43,top:64,base:184.6,right:490,cx0:54,dx:19,off:3.8,bw:6.5,or:1.5,sigY:72,sigSize:7,
  tickSize:7.5,lblSize:7.2,rot:-45,lblDx:3,lblDy:6,title:'ssGSEA',titleX:264,titleY:28,titleSize:10,
  legY:44.5,riskX:213,lowX:239,highX:279.5,keyW:11,legSize:8,ylab:'Score',ylabX:14,ylabY:127,ylabSize:8});
boxPanel({name:'panel-b-xcell',cats:bCats,low:bLow,high:bHigh,lowOut:bLowOut,highOut:bHighOut,sig:bSig,ticks:bTicks,tickLabels:bTickLabels,
  vMin:0,vMax:0.6,pMin:499.3,pMax:378.3,ax:45,top:355,base:505,right:492,cx0:71.4,dx:43.9,off:8.7,bw:15.7,or:1.8,sigY:361,sigSize:7.5,
  tickSize:8,lblSize:8,rot:-45,lblDx:3,lblDy:7,title:'xCell',titleX:270,titleY:315,titleSize:10,
  legY:334,riskX:217,lowX:243,highX:283.6,keyW:11.5,legSize:8,ylab:'Composition',ylabX:20,ylabY:431,ylabSize:8,family:NARROW,tickSx:1});
boxPanel({name:'panel-e-immune-function',cats:eCats,low:eLow,high:eHigh,lowOut:eLowOut,highOut:eHighOut,sig:eSig,ticks:eTicks,tickLabels:eTickLabels,
  vMin:0,vMax:1,pMin:768.1,pMax:651,ax:50.8,top:645,base:773.8,right:491,cx0:70.7,dx:33.38,off:6.7,bw:12.4,or:1.8,sigY:649,sigSize:7.5,
  tickSize:10,tickSx:0.75,lblSize:8.5,rot:-60,lblDx:3,lblDy:6,italic:true,title:'Immune Function',titleX:296,titleY:605,titleSize:12,titleSx:0.8,
  legY:624,riskX:221,lowX:246.5,highX:288,keyW:11.5,legSize:10,family:NARROW,ylab:'Score',ylabX:21,ylabY:709,ylabSize:8.5});
boxPanel({name:'panel-h-immunomodulators',cats:hCats,low:hLow,high:hHigh,lowOut:hLowOut,highOut:hHighOut,sig:hSig,ticks:hTicks,tickLabels:hTickLabels,
  vMin:0,vMax:10,pMin:1089.6,pMax:987,ax:42.3,top:946,base:1096.6,right:491,cx0:59,dx:27.73,off:5.9,bw:9.8,or:1.6,sigY:952,sigSize:7.5,
  tickSize:10,tickSx:0.75,lblSize:8.5,rot:-60,lblDx:3,lblDy:6,italic:true,title:'Immunomodulators',titleX:267,titleY:895,titleSize:12,titleSx:0.8,
  legY:920,riskX:216,lowX:243,highX:283,keyW:11,legSize:10,family:NARROW,ylab:'Expression',ylabX:21,ylabY:1021,ylabSize:8.5});
boxPanel({name:'panel-k-checkpoint-genes',cats:kCats,low:kLow,high:kHigh,lowOut:kLowOut,highOut:kHighOut,sig:kSig,ticks:kTicks,tickLabels:kTickLabels,
  vMin:0,vMax:8,pMin:1507.4,pMax:1353.1,ax:36.8,top:1340,base:1515.6,right:491,cx0:63.2,dx:44.62,off:8.8,bw:15.6,or:1.8,sigY:1347,sigSize:7.5,
  tickSize:10,tickSx:0.75,lblSize:9,rot:-60,lblDx:3,lblDy:6,italic:true,title:'Immune Checkpoint Genes',titleX:264,titleY:1299,titleSize:12,titleSx:0.8,
  legY:1318.5,riskX:213,lowX:239.4,highX:279.5,keyW:11.4,legSize:10,family:NARROW,ylab:'Expression',ylabX:19,ylabY:1427,ylabSize:8.5});

dotPanel({name:'panel-c-cell-correlation',labels:cLabels,values:cValues,colorOf:function(i){return cColors[cGroup[i]];},
  xRef:675.6,vRef:0,perUnit:148,L:633,R:720,T:22,B:551,y0:32,dy:17.55,gridFrom:-0.25,gridTo:0.3,gridStep:0.05,
  lblSize:7.6,lblSx:0.72,r:3.1,ticks:cTicks,tickLabels:cTickLabels,tickY:563,tickSize:7.5,xtX:676,xtY:575,xtSize:7.8,
  ytitle:'Immune cell',ytX:512,ytY:287,ytSize:8.5});
dotLegend({name:'panel-c-legend',title:'Software',titleY:241,titleSize:9,x:730,w:15,y0:257,dy:19.6,r:4.3,colors:cColors,items:cSoftware,size:7.8,gap:6});

dotPanel({name:'panel-f-function-correlation',labels:fLabels,values:fValues,colorOf:function(i){return fColors[i];},
  xRef:612,vRef:0.24,perUnit:533.5,L:594,R:679,T:599,B:836,y0:617,dy:28.857,gridFrom:0.22,gridTo:0.36,gridStep:0.02,rowW:1.4,
  lblSize:10.5,lblSx:0.62,r:4.6,ryScale:1.25,ticks:fTicks,tickLabels:fTickLabels,tickY:851,tickSize:9,tickSx:0.7,frame:true,xtX:636,xtY:863,xtSize:9,xtSx:0.75,
  ytitle:'Immune Function',ytX:513,ytY:718,ytSize:10,ytLs:2});
dotLegend({name:'panel-f-legend',title:'Software',titleY:631,titleSize:12,x:692,w:14,y0:648,dy:23.1,r:4.5,ryScale:1.25,colors:fColors,items:fLabels,size:10,gap:4});

dotPanel({name:'panel-i-modulator-correlation',labels:iLabels,values:iValues,colorOf:function(i){return iColors[iGroup[i]];},
  xRef:642,vRef:0,perUnit:136.5,L:610.5,R:700,T:887,B:1252,y0:895.5,dy:15.13,gridFrom:-0.2,gridTo:0.4,gridStep:0.1,
  lblSize:8,lblSx:0.68,r:3.6,ryScale:1.25,ticks:iTicks,tickLabels:iTickLabels,tickY:1261,tickSize:7.5,xtX:655,xtY:1272,xtSize:8,
  ytitle:'Immunomodulators',ytX:513,ytY:1067,ytSize:8.5});
dotLegend({name:'panel-i-legend',title:'Software',titleY:1023,titleSize:9,x:711.5,w:11,y0:1037,dy:16.1,r:3.5,ryScale:1.3,colors:iColors,items:iSoftware,size:7.8,gap:4});

dotPanel({name:'panel-l-checkpoint-correlation',labels:lLabels,values:lValues,colorOf:function(i){return lColors[i];},
  xRef:605,vRef:0,perUnit:219.25,L:553,R:688,T:1292,B:1541,y0:1300.8,dy:15.43,gridFrom:-0.2,gridTo:0.3,gridStep:0.1,rowW:1.2,
  lblSize:10.5,lblSx:0.75,r:5,ryScale:1.1,ticks:lTicks,tickLabels:lTickLabels,tickY:1552,tickSize:10,tickSx:0.75,frame:true,xtX:621,xtY:1565,xtSize:10.5,xtSx:0.75,
  ytitle:'Immune Checkpoint Genes',ytX:503,ytY:1418,ytSize:9.5});
dotLegend({name:'panel-l-legend',x:705,w:16,y0:1296,dy:17.2,r:5,ryScale:1.1,colors:lColors,items:lLabels,size:10.5,gap:5});

heatmap({name:'panel-d-heatmap',cols:dCols,rows:dRows,vals:dValues,x0:894,x1:1140,y0:18,y1:562,rowSize:4.4,rowSx:1,
  colSize:6,colRot:-45,colDx:2,colDy:5});
colorbar({name:'panel-d-colorbar',x:1143,w:6,y0:18,y1:85,vTop:0.62,vBot:-0.46,ticks:[0.6,0.4,0.2,0,-0.2,-0.4],size:5,pY:91,pDy:3.8,pSize:3.8});

heatmap({name:'panel-g-heatmap',cols:gCols,rows:gRows,vals:gValues,x0:844,x1:1156,y0:597,y1:830,rowSize:8.5,rowSx:0.62,rowFamily:NARROW,
  colSize:8,colRot:-60,colDx:2,colDy:5,colItalic:true,colSx:0.75,colFamily:NARROW});
colorbar({name:'panel-g-colorbar',x:1158,w:5,y0:597,y1:762,vTop:0.62,vBot:-0.6,ticks:[0.6,0.4,0.2,0,-0.2,-0.4],size:7.5,sx:0.7,family:NARROW,pY:773,pDy:4.2,pSize:4});

heatmap({name:'panel-j-heatmap',cols:jCols,rows:jRows,vals:jValues,x0:879.5,x1:1153.5,y0:883.5,y1:1259.5,rowSize:5.2,rowSx:0.95,
  colSize:5.6,colRot:-45,colDx:2,colDy:4,colItalic:true,colSx:0.9});
colorbar({name:'panel-j-colorbar',x:1157,w:4,y0:884,y1:953,vTop:0.72,vBot:-0.45,ticks:[0.6,0.4,0.2,0,-0.2,-0.4],size:5,pY:958,pDy:3.8,pSize:3.6});

heatmap({name:'panel-m-heatmap',cols:mCols,rows:mRows,vals:mValues,x0:823,x1:1150.6,y0:1289,y1:1548.5,rowSize:6.5,rowSx:0.8,rowFamily:NARROW,
  colSize:7,colRot:-45,colDx:2,colDy:5,colItalic:true,colSx:0.85,colFamily:NARROW});
colorbar({name:'panel-m-colorbar',x:1154,w:5,y0:1289,y1:1364,vTop:0.55,vBot:-0.65,ticks:[0.4,0.2,0,-0.2,-0.4,-0.6],size:6,sx:0.8,family:NARROW,pY:1370,pDy:4,pSize:3.6});
</script>
</body></html>
